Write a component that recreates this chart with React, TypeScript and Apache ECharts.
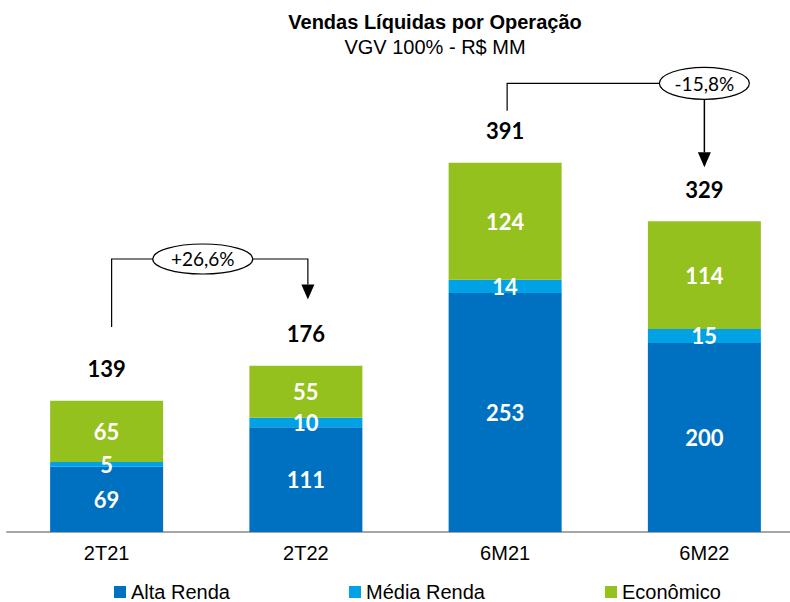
import React, { useEffect, useRef } from "react";
import * as echarts from "echarts";

const categories = ["2T21", "2T22", "6M21", "6M22"];
const altaRenda = [69, 111, 253, 200];
const mediaRenda = [5, 10, 14, 15];
const economico = [65, 55, 124, 114];
const totals = [139, 176, 391, 329];
const seriesNames = ["Alta Renda", "Média Renda", "Econômico"];
const variationLabels = ["+26,6%", "-15,8%"];
const variationFrom = [0, 2];
const variationTo = [1, 3];

const SANS = "'Liberation Sans', Arial, sans-serif";
const LABEL_FONT = "Lato, 'Open Sans', sans-serif";
const COLORS = ["#0070C0", "#00A2E5", "#95C11F"];

export default function App() {
  const ref = useRef<HTMLDivElement>(null);
  useEffect(() => {
    document.body.style.margin = "0";
    const chart = echarts.init(ref.current!, undefined, { renderer: "svg" });
    const inside = {
      show: true,
      position: "inside",
      color: "#fff",
      fontFamily: LABEL_FONT,
      fontWeight: "bold",
      fontSize: 22,
    };
    chart.setOption({
      animation: false,
      title: {
        text: "Vendas Líquidas por Operação",
        subtext: "VGV 100% - R$ MM",
        left: 435,
        textAlign: "center",
        top: 12,
        padding: 0,
        itemGap: 5,
        textStyle: { fontFamily: SANS, fontWeight: "bold", fontSize: 20, color: "#000" },
        subtextStyle: { fontFamily: SANS, fontSize: 20, color: "#000" },
      },
      legend: seriesNames.map((n, i) => ({
        data: [n],
        left: [114, 349, 605][i],
        top: 582,
        padding: 0,
        icon: "rect",
        itemWidth: 12,
        itemHeight: 12,
        textStyle: { fontFamily: SANS, fontSize: 20, color: "#000" },
        selectedMode: false,
      })),
      grid: { left: 7, width: 797, top: 3, bottom: 70 },
      xAxis: {
        type: "category",
        data: categories,
        axisLine: { lineStyle: { color: "#A6A6A6", width: 2 } },
        axisTick: { show: false },
        axisLabel: { fontFamily: SANS, fontSize: 20, color: "#000", margin: 11 },
      },
      yAxis: { type: "value", min: 0, max: 560, show: false, splitLine: { show: false } },
      series: [
        { name: seriesNames[0], type: "bar", stack: "t", barWidth: 113, data: altaRenda, itemStyle: { color: COLORS[0] }, label: inside },
        { name: seriesNames[1], type: "bar", stack: "t", data: mediaRenda, itemStyle: { color: COLORS[1] }, label: inside },
        { name: seriesNames[2], type: "bar", stack: "t", data: economico, itemStyle: { color: COLORS[2] }, label: inside },
        {
          name: "Total",
          type: "bar",
          stack: "t",
          data: totals.map(() => 0),
          itemStyle: { color: "transparent" },
          label: {
            show: true,
            position: "top",
            distance: 21,
            formatter: (p: any) => String(totals[p.dataIndex]),
            color: "#000",
            fontFamily: LABEL_FONT,
            fontWeight: "bold",
            fontSize: 22,
          },
        },
      ],
    });

    // annotation layout (data-unit heights)
    const layouts = [
      { start: 217, top: 289, tip: 246, mode: "mid", rx: 50, ry: 15, dx0: 5, dx1: 2 },
      { start: 446, top: 475, tip: 386, mode: "end", rx: 45, ry: 16, dx0: 2, dx1: 0 },
    ];
    const graphics: any[] = [];
    variationLabels.forEach((lab, i) => {
      const L = layouts[i];
      const p0 = chart.convertToPixel({ gridIndex: 0 }, [variationFrom[i], L.start]) as number[];
      const pTop = chart.convertToPixel({ gridIndex: 0 }, [variationFrom[i], L.top]) as number[];
      const p1 = chart.convertToPixel({ gridIndex: 0 }, [variationTo[i], L.tip]) as number[];
      const x0 = p0[0] + L.dx0;
      const x1 = p1[0] + L.dx1;
      const yS = p0[1];
      const yT = pTop[1];
      const yTip = p1[1];
      const headH = 15;
      const headW = 13;
      const lineStyle = { stroke: "#000", lineWidth: 1.2, fill: null };
      let cx: number;
      if (L.mode === "mid") {
        cx = (x0 + x1) / 2 - 7;
        graphics.push({
          type: "polyline",
          silent: true,
          shape: { points: [[x0, yS], [x0, yT], [x1, yT], [x1, yTip - headH]] },
          style: lineStyle,
        });
      } else {
        cx = x1;
        graphics.push({
          type: "polyline",
          silent: true,
          shape: { points: [[x0, yS], [x0, yT], [x1 - L.rx, yT]] },
          style: lineStyle,
        });
        graphics.push({
          type: "line",
          silent: true,
          shape: { x1: x1, y1: yT + L.ry, x2: x1, y2: yTip - headH },
          style: { stroke: "#000", lineWidth: 1.5 },
        });
      }
      graphics.push({
        type: "polygon",
        silent: true,
        shape: { points: [[x1 - headW / 2, yTip - headH], [x1 + headW / 2, yTip - headH], [x1, yTip]] },
        style: { fill: "#000" },
      });
      graphics.push({
        type: "ellipse",
        silent: true,
        shape: { cx, cy: yT, rx: L.rx, ry: L.ry },
        style: { fill: "#fff", stroke: "#000", lineWidth: 1.2 },
      });
      graphics.push({
        type: "text",
        silent: true,
        x: cx,
        y: yT,
        style: {
          text: lab,
          fontFamily: LABEL_FONT,
          fontSize: 19,
          fill: "#000",
          align: "center",
          verticalAlign: "middle",
        },
      });
    });
    chart.setOption({ graphic: graphics });
    return () => chart.dispose();
  }, []);
  return (
    <div style={{ width: 790, height: 602, overflow: "hidden", position: "relative" }}>
      <div ref={ref} style={{ width: 806, height: 602 }} />
    </div>
  );
}
